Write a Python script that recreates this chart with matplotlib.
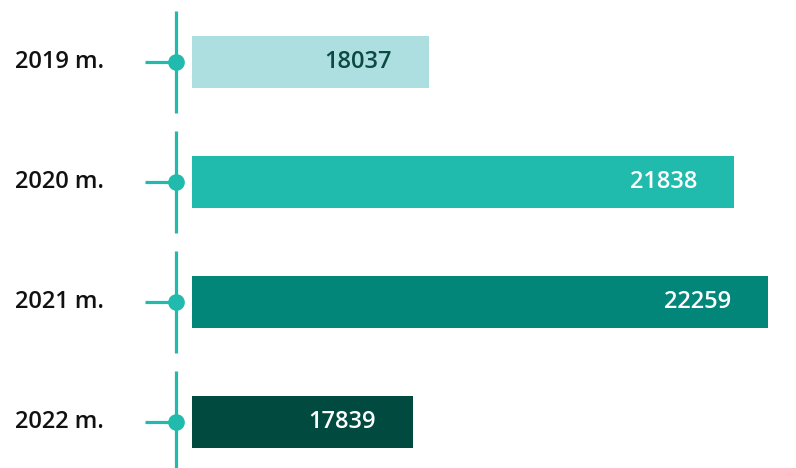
import matplotlib
matplotlib.use("Agg")
import matplotlib.pyplot as plt

# Data
years = ["2019 m.", "2020 m.", "2021 m.", "2022 m."]
values = [18037, 21838, 22259, 17839]
bar_colors = ["#addfe0", "#21bbad", "#028679", "#014a40"]
value_colors = ["#0b4a42", "white", "white", "white"]

LINE = "#21bbad"
FONT = "Open Sans"

fig = plt.figure(figsize=(7.96, 4.68), dpi=100)

# rows are 120 px apart, first centre 62 px from top
ylim = (len(years) - 1 + 46 / 120, -62 / 120)

# left part: labels + timeline
ax_t = fig.add_axes([0, 0, 192 / 796, 1])
ax_t.set_xlim(0, 192)
ax_t.set_ylim(*ylim)
ax_t.set_axis_off()
for i, label in enumerate(years):
    ax_t.plot([176, 176], [i - 0.427, i + 0.427], color=LINE, lw=2.3,
              solid_capstyle="butt")
    ax_t.plot([145, 176], [i, i], color=LINE, lw=2.3, solid_capstyle="butt")
    ax_t.plot(176, i, "o", color=LINE, ms=12, mec="none")
    ax_t.text(15, i, label, ha="left", va="center", fontsize=17,
              family=FONT, weight="semibold", color="#111111")

# bars
ax = fig.add_axes([192 / 796, 0, 604 / 796, 1])
ax.barh(range(len(values)), values, height=0.44, color=bar_colors)
ax.set_xlim(15090, 22610)
ax.set_ylim(*ylim)
ax.set_axis_off()
for i, v in enumerate(values):
    ax.annotate(str(v), xy=(v, i), xytext=(-37, 0), textcoords="offset pixels",
                ha="right", va="center", fontsize=17, family=FONT,
                weight="semibold", color=value_colors[i])

fig.savefig("out.png", dpi=100)
